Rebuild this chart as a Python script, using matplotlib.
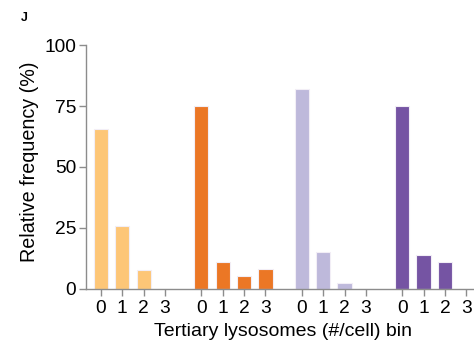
import matplotlib
matplotlib.use("Agg")
import matplotlib.pyplot as plt
import numpy as np

plt.rcParams['font.family'] = ['Liberation Sans', 'DejaVu Sans']

bins = ["0", "1", "2", "3"]
group1 = [65.5, 26.0, 7.7, 0.0]
group2 = [75.0, 10.9, 5.5, 8.2]
group3 = [81.8, 15.2, 2.3, 0.0]
group4 = [75.0, 13.8, 11.1, 0.0]
groups = [group1, group2, group3, group4]
colors = ["#FDC677", "#EB7725", "#BEB9DB", "#7554A3"]
yticks = [0, 25, 50, 75, 100]

fig = plt.figure(figsize=(4.74, 3.49), dpi=100)
ax = fig.add_axes([0.181, 0.172, 0.83, 0.699])

stride = 4.69
tick_pos = []
tick_lab = []
for g, (vals, c) in enumerate(zip(groups, colors)):
    xs = g * stride + np.arange(len(vals))
    ax.bar(xs, vals, width=0.66, color=c, edgecolor="#F2EEF6", linewidth=0.8, zorder=2)
    tick_pos.extend(xs)
    tick_lab.extend(bins)

ax.set_xticks(tick_pos)
ax.set_xticklabels(tick_lab)
ax.set_yticks(yticks)
ax.set_ylim(0, 100)
ax.set_xlim(-0.7, 3 * stride + 3.6)

for s in ["top", "right"]:
    ax.spines[s].set_visible(False)
for s in ["left", "bottom"]:
    ax.spines[s].set_color("#8C8C8C")
    ax.spines[s].set_linewidth(1.0)
ax.tick_params(axis="both", colors="#8C8C8C", labelcolor="black", labelsize=13.8, length=5, width=1.0)
ax.tick_params(axis="x", pad=3)
ax.tick_params(axis="y", pad=2)

ax.set_ylabel("Relative frequency (%)", fontsize=14.2)
ax.yaxis.set_label_coords(-0.118, 0.523)
ax.set_xlabel("Tertiary lysosomes (#/cell) bin", fontsize=14, labelpad=4)

fig.text(0.044, 0.948, "J", fontsize=9, fontweight="bold", ha="left", va="center")

fig.savefig("out.png", dpi=100)
